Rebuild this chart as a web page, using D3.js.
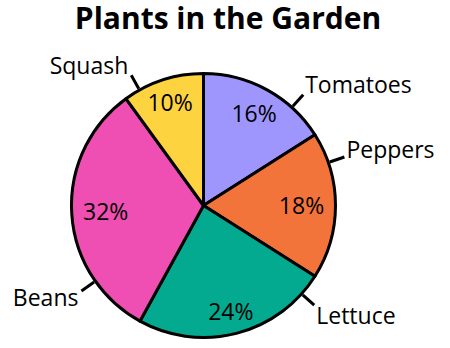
<!DOCTYPE html>
<html>
<head>
    <meta charset="utf-8">
    <title>Plants in the Garden</title>
    <script src="https://cdn.jsdelivr.net/npm/d3@7"></script>
    <style>
        body { margin: 0; background: #fff; }
        text { font-family: "Open Sans", Lato, sans-serif; fill: #000; }
        .slice { stroke: #000; stroke-width: 3; stroke-linejoin: round; }
        .leader { stroke: #000; stroke-width: 3; }
    </style>
</head>
<body>
<script>
    // data, read clockwise from 12 o'clock
    var plants = ["Tomatoes", "Peppers", "Lettuce", "Beans", "Squash"];
    var shares = [16, 18, 24, 32, 10];
    var colors = ["#9e96fd", "#f3743b", "#04aa8f", "#ef4fb3", "#fed340"];

    // where the name labels hang off the rim (degrees from top) and how far the % text sits
    var leaderAngle = {Tomatoes: 42, Peppers: 71, Lettuce: 132, Beans: 235, Squash: 331};
    var nameDy = {Tomatoes: -2, Peppers: 1, Lettuce: 19, Beans: 15, Squash: -1};
    var pctRadius = {Tomatoes: 105, Peppers: 98, Lettuce: 110, Beans: 98, Squash: 108};

    var width = 450, height = 348;
    var cx = 203.5, cy = 205.5, r = 132;

    var svg = d3.select("body").append("svg")
        .attr("width", width)
        .attr("height", height);

    svg.append("text")
        .attr("x", 228)
        .attr("y", 29)
        .attr("text-anchor", "middle")
        .style("font-size", "30px")
        .style("font-weight", "bold")
        .text("Plants in the Garden");

    var pie = d3.pie().sort(null).value(function (d) { return d.value; });
    var arc = d3.arc().innerRadius(0).outerRadius(r);

    var rows = plants.map(function (p, i) {
        return {name: p, value: shares[i], color: colors[i]};
    });
    var arcs = pie(rows);

    var g = svg.append("g").attr("transform", "translate(" + cx + "," + cy + ")");

    g.selectAll("path.slice")
        .data(arcs)
        .enter().append("path")
        .attr("class", "slice")
        .attr("d", arc)
        .style("fill", function (d) { return d.data.color; });

    function polar(deg, rad) {
        var a = deg * Math.PI / 180;
        return [Math.sin(a) * rad, -Math.cos(a) * rad];
    }

    // percentages
    g.selectAll("text.pct")
        .data(arcs)
        .enter().append("text")
        .attr("class", "pct")
        .attr("text-anchor", "middle")
        .attr("dy", "0.35em")
        .style("font-size", "23px")
        .attr("transform", function (d) {
            var mid = (d.startAngle + d.endAngle) / 2 * 180 / Math.PI;
            var p = polar(mid, pctRadius[d.data.name]);
            return "translate(" + p[0] + "," + p[1] + ")";
        })
        .text(function (d) { return d.data.value + "%"; });

    // leaders and names
    arcs.forEach(function (d) {
        var name = d.data.name;
        var ang = leaderAngle[name];
        var p0 = polar(ang, r + 1.5);
        var p1 = polar(ang, r + 17);
        g.append("line")
            .attr("class", "leader")
            .attr("x1", p0[0]).attr("y1", p0[1])
            .attr("x2", p1[0]).attr("y2", p1[1]);
        var right = ang < 180;
        g.append("text")
            .attr("x", p1[0] + (right ? 2 : -3))
            .attr("y", p1[1] + nameDy[name])
            .attr("text-anchor", right ? "start" : "end")
            .style("font-size", "23px")
            .text(name);
    });
</script>
</body>
</html>
